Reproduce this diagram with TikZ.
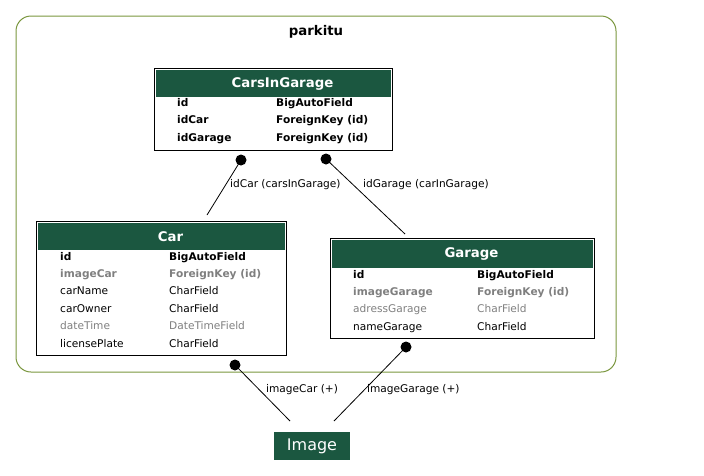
\documentclass[tikz,border=0pt]{standalone}
\usepackage{fontspec}
\setmainfont{DejaVu Sans}
\usetikzlibrary{positioning,calc}
\definecolor{hdrgreen}{RGB}{27,87,64}
\definecolor{clustergreen}{RGB}{122,150,62}
\definecolor{fkgrey}{RGB}{127,127,127}
\newcommand{\rowfont}{\fontsize{10.6}{12}\selectfont}

\begin{document}
\begin{tikzpicture}[x=1pt,y=-1pt,
    tbl/.style={draw=black, line width=.9pt, inner sep=0pt},
    hdr/.style={fill=hdrgreen, inner sep=0pt},
    hdrtext/.style={text=white, inner sep=0pt, font=\fontsize{13.3}{15}\selectfont\bfseries},
    fld/.style={anchor=west, inner sep=0pt, text height=8pt, text depth=2pt, font=\rowfont},
    pk/.style={fld, font=\rowfont\bfseries},
    fk/.style={fld, text=fkgrey, font=\rowfont\bfseries},
    nul/.style={fld, text=fkgrey},
    dot/.style={circle, fill=black, minimum size=11pt, inner sep=0pt},
    rel/.style={draw=black, line width=.8pt},
    lbl/.style={font=\rowfont, inner sep=0pt, anchor=west}]
    \useasboundingbox (0,0) rectangle (704,475);
    % cluster
    \draw[clustergreen, line width=1pt, rounded corners=15pt] (16,16) rectangle (616,372);
    \node[font=\fontsize{13.3}{15}\selectfont\bfseries, inner sep=0pt] (parkitu) at (316,32) {parkitu};
    % CarsInGarage
    \node[tbl, minimum width=238pt, minimum height=82pt] (cig) at (273,109) {};
    \node[hdr, minimum width=235pt, minimum height=27pt] (cig-h) at (273.5,83.5) {};
    \node[hdrtext, xshift=9pt] (cig-title) at (cig-h.center) {CarsInGarage};
    \foreach \s/\n/\t [count=\i from 0] in {pk/id/BigAutoField, pk/idCar/ForeignKey (id), pk/idGarage/ForeignKey (id)}{
        \node[\s] (cig-n\i) at (177,103+17.5*\i) {\n};
        \node[\s] (cig-t\i) at (276,103+17.5*\i) {\t};
    }
    % Car
    \node[tbl, minimum width=250pt, minimum height=134pt] (car) at (161,288) {};
    \node[hdr, minimum width=247pt, minimum height=27pt] (car-h) at (161.5,236.5) {};
    \node[hdrtext, xshift=9pt] (car-title) at (car-h.center) {Car};
    \foreach \s/\n/\t [count=\i from 0] in {pk/id/BigAutoField, fk/imageCar/ForeignKey (id), fld/carName/CharField, fld/carOwner/CharField, nul/dateTime/DateTimeField, fld/licensePlate/CharField}{
        \node[\s] (car-n\i) at (60,257+17.4*\i) {\n};
        \node[\s] (car-t\i) at (169,257+17.4*\i) {\t};
    }
    % Garage
    \node[tbl, minimum width=264pt, minimum height=100pt] (garage) at (462,288) {};
    \node[hdr, minimum width=261pt, minimum height=28pt] (garage-h) at (462.5,254) {};
    \node[hdrtext, xshift=9pt] (garage-title) at (garage-h.center) {Garage};
    \foreach \s/\n/\t [count=\i from 0] in {pk/id/BigAutoField, fk/imageGarage/ForeignKey (id), nul/adressGarage/CharField, fld/nameGarage/CharField}{
        \node[\s] (garage-n\i) at (353,275+17.4*\i) {\n};
        \node[\s] (garage-t\i) at (477,275+17.4*\i) {\t};
    }
    % Image
    \node[fill=hdrgreen, text=white, minimum width=76pt, minimum height=28pt, inner sep=0pt,
        font=\fontsize{16}{18}\selectfont] (image) at (312,446) {Image};
    % relations
    \node[dot] (cig-car) at (241,160) {};
    \coordinate (car-in) at (207,215);
    \draw[rel] (cig-car.center) -- (car-in);
    \node[lbl] (l-idcar) at (230,185) {idCar (carsInGarage)};
    \node[dot] (cig-garage) at (326,159) {};
    \coordinate (garage-in) at (405,234);
    \draw[rel] (cig-garage.center) -- (garage-in);
    \node[lbl] (l-idgarage) at (363,185) {idGarage (carInGarage)};
    \node[dot] (car-image) at (235,365) {};
    \coordinate (image-car) at (290,421);
    \draw[rel] (car-image.center) -- (image-car);
    \node[lbl] (l-imagecar) at (266,390) {imageCar (+)};
    \node[dot] (garage-image) at (406,347) {};
    \coordinate (image-garage) at (334,421);
    \draw[rel] (garage-image.center) -- (image-garage);
    \node[lbl] (l-imagegarage) at (367,390) {imageGarage (+)};
\end{tikzpicture}
\end{document}
